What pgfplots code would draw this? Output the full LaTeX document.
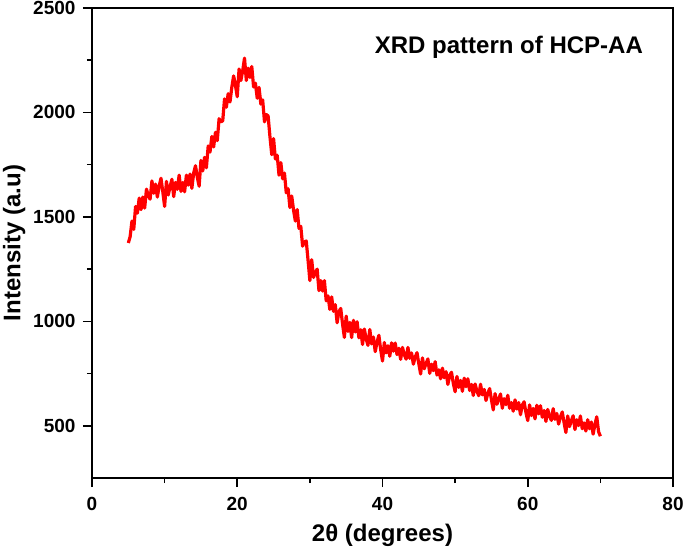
\documentclass[border=0pt]{standalone}
\usepackage{fontspec}
\setmainfont{Liberation Sans}
\usepackage{pgfplots}
\pgfplotsset{compat=1.18}

\begin{document}
\begin{tikzpicture}
\begin{axis}[
  width=581pt, height=470pt, scale only axis,
  xmin=0, xmax=80, ymin=250, ymax=2500,
  xtick={0,20,40,60,80},
  ytick={500,1000,1500,2000,2500},
  minor tick num=1,
  tick align=outside,
  xtick pos=bottom, ytick pos=left,
  major tick length=9pt, minor tick length=5pt,
  every tick/.style={black, line width=1.6pt},
  axis line style={line width=1.6pt},
  /pgf/number format/1000 sep={},
  /pgf/number format/assume math mode=true,
  tick label style={font=\fontsize{19}{19}\selectfont\bfseries},
  xticklabel style={yshift=-7pt},
  yticklabel style={xshift=-4pt},
  xlabel={2θ (degrees)},
  ylabel={Intensity (a.u)},
  label style={font=\fontsize{24}{24}\selectfont\bfseries},
  xlabel style={yshift=-6pt},
  ylabel style={yshift=1pt},
  clip=false,
]
\addplot[red, line width=3.2pt, line join=round] coordinates {
(5.00,1375) (5.25,1405) (5.50,1480) (5.75,1440) (6.00,1550) (6.25,1518) (6.50,1590) (6.75,1535)
(7.00,1595) (7.25,1542) (7.50,1633) (7.75,1602) (8.00,1585) (8.25,1672) (8.50,1613) (8.75,1657)
(9.00,1595) (9.25,1648) (9.50,1685) (9.75,1620) (10.00,1550) (10.25,1670) (10.50,1605) (10.75,1645)
(11.00,1680) (11.25,1597) (11.50,1665) (11.75,1632) (12.00,1700) (12.25,1622) (12.50,1665) (12.75,1620)
(13.00,1700) (13.25,1652) (13.50,1705) (13.75,1637) (14.00,1710) (14.25,1745) (14.50,1690) (14.75,1647)
(15.00,1770) (15.25,1720) (15.50,1785) (15.75,1735) (16.00,1840) (16.25,1810) (16.50,1885) (16.75,1835)
(17.00,1905) (17.25,1865) (17.50,1970) (17.75,1955) (18.00,1960) (18.25,2065) (18.50,2025) (18.75,2090)
(19.00,2050) (19.25,2120) (19.50,2175) (19.75,2130) (20.00,2075) (20.25,2208) (20.50,2153) (20.75,2200)
(21.00,2260) (21.25,2153) (21.50,2212) (21.75,2168) (22.00,2220) (22.25,2122) (22.50,2140) (22.75,2068)
(23.00,2120) (23.25,2040) (23.50,2060) (23.75,1955) (24.00,1990) (24.25,1983) (24.50,1885) (24.75,1798)
(25.00,1875) (25.25,1777) (25.50,1795) (25.75,1700) (26.00,1760) (26.25,1682) (26.50,1710) (26.75,1615)
(27.00,1635) (27.25,1545) (27.50,1600) (27.75,1533) (28.00,1480) (28.25,1535) (28.50,1445) (28.75,1455)
(29.00,1360) (29.25,1380) (29.50,1385) (29.75,1292) (30.00,1195) (30.25,1295) (30.50,1210) (30.75,1233)
(31.00,1250) (31.25,1147) (31.50,1195) (31.75,1145) (32.00,1195) (32.25,1098) (32.50,1122) (32.75,1057)
(33.00,1117) (33.25,1048) (33.50,1080) (33.75,993) (34.00,1047) (34.25,1062) (34.50,987) (34.75,923)
(35.00,1025) (35.25,952) (35.50,995) (35.75,922) (36.00,1005) (36.25,949) (36.50,998) (36.75,921)
(37.00,960) (37.25,889) (37.50,963) (37.75,916) (38.00,885) (38.25,961) (38.50,892) (38.75,925)
(39.00,855) (39.25,901) (39.50,933) (39.75,864) (40.00,810) (40.25,899) (40.50,849) (40.75,883)
(41.00,833) (41.25,897) (41.50,857) (41.75,896) (42.00,841) (42.25,871) (42.50,818) (42.75,875)
(43.00,841) (43.25,819) (43.50,875) (43.75,823) (44.00,849) (44.25,795) (44.50,829) (44.75,850)
(45.00,797) (45.25,748) (45.50,825) (45.75,773) (46.00,799) (46.25,820) (46.50,751) (46.75,795)
(47.00,764) (47.25,807) (47.50,743) (47.75,768) (48.00,725) (48.25,776) (48.50,730) (48.75,759)
(49.00,698) (49.25,742) (49.50,756) (49.75,703) (50.00,663) (50.25,736) (50.50,684) (50.75,717)
(51.00,665) (51.25,728) (51.50,687) (51.75,725) (52.00,669) (52.25,698) (52.50,645) (52.75,700)
(53.00,666) (53.25,644) (53.50,699) (53.75,648) (54.00,674) (54.25,621) (54.50,656) (54.75,678)
(55.00,625) (55.25,576) (55.50,654) (55.75,603) (56.00,629) (56.25,652) (56.50,584) (56.75,630)
(57.00,601) (57.25,646) (57.50,584) (57.75,611) (58.00,570) (58.25,624) (58.50,580) (58.75,611)
(59.00,553) (59.25,599) (59.50,615) (59.75,563) (60.00,525) (60.25,600) (60.50,549) (60.75,583)
(61.00,533) (61.25,598) (61.50,557) (61.75,596) (62.00,541) (62.25,573) (62.50,521) (62.75,578)
(63.00,546) (63.25,526) (63.50,582) (63.75,531) (64.00,559) (64.25,508) (64.50,543) (64.75,566)
(65.00,515) (65.25,468) (65.50,547) (65.75,496) (66.00,524) (66.25,548) (66.50,482) (66.75,529)
(67.00,501) (67.25,547) (67.50,486) (67.75,514) (68.00,475) (68.25,529) (68.50,486) (68.75,518)
(69.00,460) (69.25,506) (69.50,543) (69.75,472) (70.00,450)
};
\node[font=\fontsize{24}{24}\selectfont\bfseries] at (rel axis cs:0.7175,0.917) {XRD pattern of HCP-AA};
\end{axis}
\pgfresetboundingbox
\path[use as bounding box] ([shift={(-92pt,-73pt)}]current axis.south west) rectangle ([shift={(12pt,8pt)}]current axis.north east);
\end{tikzpicture}
\end{document}
